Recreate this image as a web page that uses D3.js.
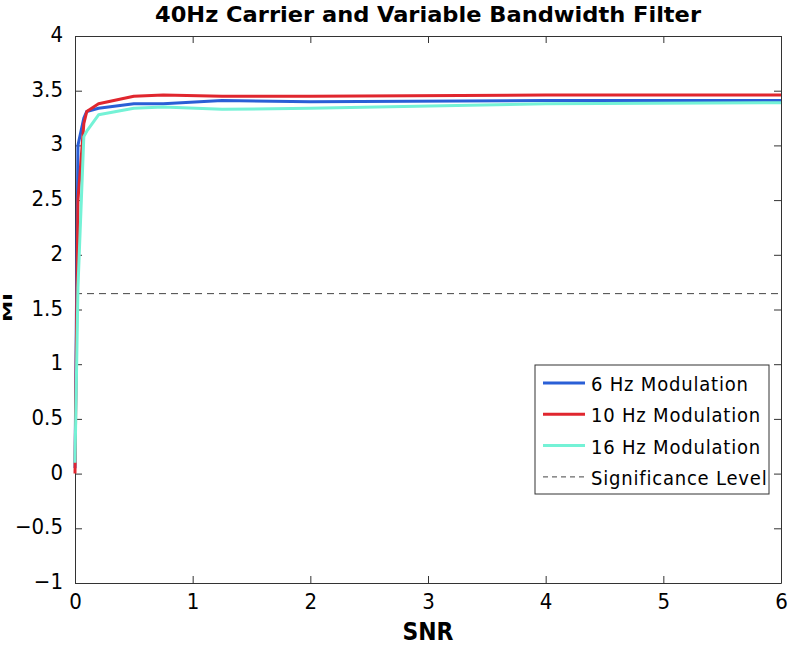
<!DOCTYPE html>
<html>
<head>
<meta charset="utf-8">
<script src="https://cdn.jsdelivr.net/npm/d3@7"></script>
<style>
  body { margin: 0; background: #fff; }
  svg text { font-family: "DejaVu Sans Condensed", "DejaVu Sans", sans-serif; fill: #000; }
</style>
</head>
<body>
<div id="chart"></div>
<script>
// data
const snr = [0, 0.025, 0.075, 0.1, 0.2, 0.5, 0.75, 1.25, 2, 4, 6];
const mi6 = [0.05, 3.0, 3.25, 3.31, 3.34, 3.38, 3.38, 3.41, 3.40, 3.41, 3.41];
const mi10 = [0.0, 2.5, 3.2, 3.31, 3.38, 3.45, 3.46, 3.45, 3.45, 3.46, 3.46];
const mi16 = [0.1, 1.7, 3.08, 3.13, 3.28, 3.34, 3.35, 3.33, 3.34, 3.38, 3.39];
const significance = 1.645;

const seriesNames = ["6 Hz Modulation", "10 Hz Modulation", "16 Hz Modulation"];
const seriesColors = ["#2a5fd6", "#e0262e", "#74f2d6"];
const xTicks = [0, 1, 2, 3, 4, 5, 6];
const yTicks = [-1, -0.5, 0, 0.5, 1, 1.5, 2, 2.5, 3, 3.5, 4];

const width = 792, height = 646;
const margin = {top: 36, right: 11, bottom: 63, left: 75};

const svg = d3.select("#chart").append("svg")
  .attr("width", width)
  .attr("height", height);

const x = d3.scaleLinear().domain([0, 6]).range([margin.left, width - margin.right]);
const y = d3.scaleLinear().domain([-1, 4]).range([height - margin.bottom, margin.top]);

const fmt = d => (d < 0 ? "\u2212" + Math.abs(d) : String(d));
const condensed = "'DejaVu Sans Condensed', 'DejaVu Sans', sans-serif";

// axes, matlab style box with inward ticks
function styleAxis(g) {
  g.select(".domain").attr("stroke", "#333").attr("stroke-width", 1);
  g.selectAll(".tick line").attr("stroke", "#333");
}

svg.append("g")
  .attr("transform", `translate(0,${y(-1)})`)
  .call(d3.axisBottom(x).tickValues(xTicks).tickSizeInner(-7).tickSizeOuter(0).tickPadding(10).tickFormat(fmt))
  .call(styleAxis)
  .call(g => g.selectAll("text").attr("font-size", 22).attr("font-family", condensed));

svg.append("g")
  .attr("transform", `translate(0,${y(4)})`)
  .call(d3.axisTop(x).tickValues(xTicks).tickSizeInner(-7).tickSizeOuter(0).tickFormat(""))
  .call(styleAxis);

svg.append("g")
  .attr("transform", `translate(${x(0)},0)`)
  .call(d3.axisLeft(y).tickValues(yTicks).tickSizeInner(-7).tickSizeOuter(0).tickPadding(12).tickFormat(fmt))
  .call(styleAxis)
  .call(g => g.selectAll("text").attr("font-size", 22).attr("font-family", condensed).attr("dy", "0.25em"));

svg.append("g")
  .attr("transform", `translate(${x(6)},0)`)
  .call(d3.axisRight(y).tickValues(yTicks).tickSizeInner(-7).tickSizeOuter(0).tickFormat(""))
  .call(styleAxis);

// significance line
svg.append("line")
  .attr("x1", x(0)).attr("x2", x(6))
  .attr("y1", y(significance)).attr("y2", y(significance))
  .attr("stroke", "#444").attr("stroke-width", 1)
  .attr("stroke-dasharray", "7,5");

// curves
const line = d3.line().x((d, i) => x(snr[i])).y(d => y(d));
[mi6, mi10, mi16].forEach((vals, i) => {
  svg.append("path")
    .datum(vals)
    .attr("d", line)
    .attr("fill", "none")
    .attr("stroke", seriesColors[i])
    .attr("stroke-width", 3)
    .attr("stroke-linejoin", "round");
});

// title and axis labels
const midX = (x(0) + x(6)) / 2;
svg.append("text")
  .attr("x", midX).attr("y", 22)
  .attr("text-anchor", "middle")
  .attr("font-size", 21).attr("font-weight", "bold")
  .attr("font-family", "'DejaVu Sans', sans-serif")
  .attr("textLength", 546).attr("lengthAdjust", "spacingAndGlyphs")
  .text("40Hz Carrier and Variable Bandwidth Filter");

svg.append("text")
  .attr("x", midX).attr("y", 640)
  .attr("text-anchor", "middle")
  .attr("font-size", 24).attr("font-weight", "bold")
  .attr("font-family", "'DejaVu Sans', sans-serif")
  .attr("textLength", 51).attr("lengthAdjust", "spacingAndGlyphs")
  .text("SNR");

svg.append("text")
  .attr("transform", `translate(12,307.5) rotate(-90)`)
  .attr("text-anchor", "middle")
  .attr("font-size", 13).attr("font-weight", "bold")
  .attr("font-family", "'DejaVu Sans', sans-serif")
  .attr("textLength", 29).attr("lengthAdjust", "spacingAndGlyphs")
  .text("MI");

// legend
const legend = svg.append("g").attr("transform", "translate(535,365)");
legend.append("rect")
  .attr("width", 234).attr("height", 129)
  .attr("fill", "#fff").attr("stroke", "#333").attr("stroke-width", 1);

const legendItems = seriesNames.map((n, i) => ({name: n, color: seriesColors[i], dash: null}))
  .concat([{name: "Significance Level", color: "#444", dash: "5,4"}]);

legendItems.forEach((d, i) => {
  const cy = 18 + i * 31.3;
  legend.append("line")
    .attr("x1", 8).attr("x2", 50).attr("y1", cy).attr("y2", cy)
    .attr("stroke", d.color)
    .attr("stroke-width", d.dash ? 1 : 3)
    .attr("stroke-dasharray", d.dash);
  legend.append("text")
    .attr("x", 56).attr("y", cy + 8)
    .attr("font-size", 20)
    .attr("font-family", condensed)
    .attr("letter-spacing", 0.8)
    .text(d.name);
});
</script>
</body>
</html>
